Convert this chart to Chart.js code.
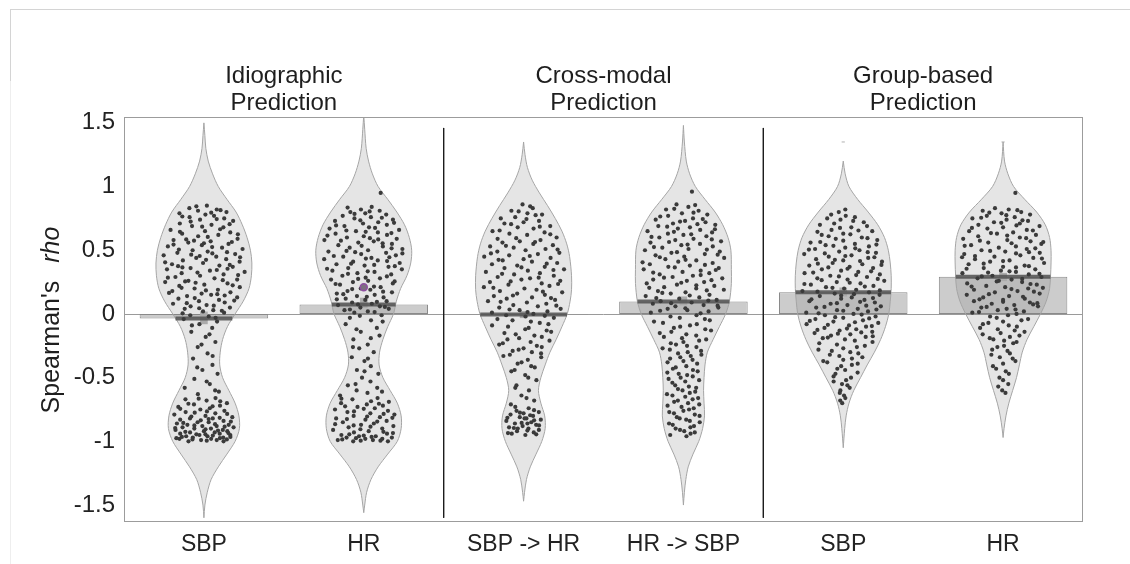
<!DOCTYPE html>
<html>
<head>
<meta charset="utf-8">
<script src="https://cdn.jsdelivr.net/npm/chart.js@4/dist/chart.umd.min.js"></script>
<style>
  html, body { margin: 0; padding: 0; background: #ffffff; }
  #wrap { width: 1130px; height: 564px; position: relative; }
</style>
</head>
<body>
<div id="wrap"><canvas id="chart" width="1130" height="564"></canvas></div>
<script>
// ---- categories, group titles, ticks ----
const categories = ['SBP', 'HR', 'SBP -> HR', 'HR -> SBP', 'SBP', 'HR'];
const groupNames = [['Idiographic', 'Prediction'], ['Cross-modal', 'Prediction'], ['Group-based', 'Prediction']];
const yTicks = [-1.5, -1, -0.5, 0, 0.5, 1, 1.5];

// ---- summary values per category ----
const meanRho = [-0.036, 0.075, -0.005, 0.098, 0.171, 0.293];
const ciLow   = [-0.078, 0.05, -0.03, 0.07, 0.14, 0.26];
const ciHigh  = [0.016, 0.125, 0.02, 0.135, 0.205, 0.32];
const medianMark = [null, 0.21, null, null, null, null];
const tailRho = [null, null, null, null, 1.35, 1.35];

// ---- kernel density profiles: [rho, relative density] from top to bottom ----
const densIdioSBP = [[1.5,0],[1.4,0.02],[1.3,0.04],[1.2,0.09],[1.1,0.18],[1.0,0.3],[0.9,0.48],[0.8,0.67],[0.7,0.8],[0.6,0.9],[0.5,0.97],[0.4,1.0],[0.3,0.99],[0.2,0.94],[0.1,0.82],[0.0,0.65],[-0.1,0.49],[-0.2,0.39],[-0.3,0.34],[-0.4,0.33],[-0.5,0.39],[-0.6,0.52],[-0.7,0.65],[-0.8,0.73],[-0.9,0.74],[-1.0,0.65],[-1.1,0.48],[-1.2,0.3],[-1.3,0.15],[-1.4,0.07],[-1.5,0.02],[-1.6,0]];
const densIdioHR  = [[1.56,0],[1.45,0.02],[1.3,0.05],[1.2,0.1],[1.1,0.18],[1.0,0.3],[0.9,0.5],[0.8,0.69],[0.7,0.85],[0.6,0.95],[0.5,1.0],[0.4,0.98],[0.3,0.9],[0.2,0.77],[0.1,0.68],[0.0,0.62],[-0.1,0.5],[-0.2,0.4],[-0.3,0.33],[-0.4,0.32],[-0.5,0.4],[-0.6,0.55],[-0.7,0.7],[-0.8,0.78],[-0.9,0.78],[-1.0,0.7],[-1.1,0.5],[-1.2,0.3],[-1.3,0.15],[-1.4,0.06],[-1.5,0.02],[-1.56,0]];
const densCrossSBPHR = [[1.35,0],[1.25,0.03],[1.15,0.08],[1.05,0.18],[0.95,0.33],[0.85,0.5],[0.75,0.66],[0.65,0.8],[0.55,0.9],[0.45,0.96],[0.3,1.0],[0.19,1.0],[0.1,0.97],[0.0,0.91],[-0.1,0.8],[-0.2,0.68],[-0.3,0.55],[-0.4,0.45],[-0.5,0.36],[-0.6,0.31],[-0.7,0.36],[-0.8,0.44],[-0.9,0.45],[-1.0,0.38],[-1.1,0.26],[-1.2,0.14],[-1.3,0.06],[-1.4,0.02],[-1.47,0]];
const densCrossHRSBP = [[1.48,0],[1.35,0.02],[1.2,0.06],[1.1,0.13],[1.0,0.25],[0.9,0.45],[0.8,0.66],[0.7,0.82],[0.6,0.93],[0.5,0.99],[0.35,1.0],[0.24,1.0],[0.1,0.96],[0.0,0.88],[-0.1,0.75],[-0.2,0.62],[-0.3,0.5],[-0.4,0.45],[-0.5,0.43],[-0.6,0.42],[-0.7,0.43],[-0.8,0.44],[-0.9,0.4],[-1.0,0.32],[-1.1,0.2],[-1.2,0.1],[-1.3,0.05],[-1.4,0.02],[-1.5,0]];
const densGroupSBP = [[1.2,0],[1.1,0.04],[1.0,0.12],[0.9,0.3],[0.8,0.52],[0.7,0.72],[0.6,0.86],[0.5,0.94],[0.4,0.98],[0.3,1.0],[0.2,1.0],[0.1,0.98],[0.0,0.95],[-0.1,0.88],[-0.2,0.78],[-0.3,0.65],[-0.4,0.5],[-0.5,0.36],[-0.6,0.22],[-0.7,0.12],[-0.8,0.06],[-0.9,0.03],[-1.05,0]];
const densGroupHR = [[1.35,0],[1.2,0.03],[1.1,0.1],[1.0,0.22],[0.9,0.45],[0.8,0.7],[0.7,0.88],[0.6,0.97],[0.5,1.0],[0.4,1.0],[0.3,0.99],[0.2,0.97],[0.1,0.9],[0.0,0.78],[-0.1,0.64],[-0.2,0.5],[-0.3,0.4],[-0.4,0.34],[-0.5,0.28],[-0.6,0.2],[-0.7,0.12],[-0.8,0.06],[-0.9,0.02],[-0.97,0]];

// ---- individual participants: [rho, jitter within the local violin width] ----
const idioSBP = [[0.85,0.12],[0.83,-0.55],[0.82,0.47],[0.81,-0.21],[0.80,0.78],[0.79,-0.83],[0.78,0.05],[0.77,0.33],[0.76,-0.46],[0.75,0.64],[0.74,-0.12],[0.73,0.89],[0.71,-0.71],[0.70,0.22],[0.69,-0.34],[0.68,0.55],[0.66,-0.92],[0.65,0.03],[0.64,0.71],[0.63,-0.58],[0.62,0.38],[0.61,-0.15],[0.59,0.86],[0.58,-0.77],[0.57,0.17],[0.56,-0.39],[0.55,0.61],[0.54,-0.05],[0.53,-0.88],[0.52,0.44],[0.51,0.93],[0.50,-0.27],[0.49,0.09],[0.48,-0.63],[0.47,0.74],[0.46,-0.95],[0.45,0.29],[0.44,-0.18],[0.43,0.52],[0.42,-0.49],[0.41,0.83],[0.40,-0.02],[0.39,-0.74],[0.38,0.36],[0.37,0.67],[0.36,-0.31],[0.35,-0.86],[0.34,0.14],[0.33,0.95],[0.32,-0.52],[0.31,0.46],[0.30,-0.09],[0.29,-0.67],[0.28,0.25],[0.27,0.79],[0.26,-0.37],[0.25,-0.93],[0.24,0.57],[0.23,0.01],[0.22,-0.6],[0.21,0.88],[0.20,-0.23],[0.19,0.35],[0.18,-0.8],[0.17,0.68],[0.16,-0.06],[0.15,0.19],[0.14,-0.45],[0.13,0.9],[0.12,-0.7],[0.11,0.42],[0.10,-0.14],[0.09,0.6],[0.08,-0.91],[0.07,0.08],[0.06,-0.41],[0.05,0.82],[0.04,-0.62],[0.03,0.31],[0.02,-0.03],[0.01,0.7],[-0.01,-0.5],[-0.02,0.18],[-0.04,-0.8],[-0.06,0.55],[-0.08,-0.2],[-0.11,0.4],[-0.14,-0.65],[-0.18,0.1],[-0.22,0.7],[-0.26,-0.4],[-0.31,0.25],[-0.35,-0.75],[-0.40,0.6],[-0.44,-0.1],[-0.47,0.85],[-0.51,-0.55],[-0.55,0.3],[-0.58,-0.9],[-0.61,0.65],[-0.63,-0.25],[-0.66,0.45],[-0.67,-0.7],[-0.68,0.1],[-0.70,0.82],[-0.71,-0.35],[-0.72,0.56],[-0.73,-0.88],[-0.74,0.2],[-0.75,-0.12],[-0.76,0.68],[-0.77,-0.6],[-0.78,0.37],[-0.79,-0.95],[-0.80,0.05],[-0.81,0.9],[-0.82,-0.44],[-0.82,0.28],[-0.83,-0.75],[-0.84,0.62],[-0.85,-0.2],[-0.85,0.15],[-0.86,-0.85],[-0.87,0.78],[-0.87,-0.52],[-0.88,0.4],[-0.88,-0.05],[-0.89,0.93],[-0.89,-0.67],[-0.90,0.22],[-0.90,-0.3],[-0.91,0.6],[-0.91,-0.9],[-0.92,0.0],[-0.92,0.75],[-0.93,-0.45],[-0.93,0.35],[-0.94,-0.78],[-0.94,0.52],[-0.95,-0.15],[-0.95,0.88],[-0.96,-0.6],[-0.96,0.12],[-0.97,0.66],[-0.97,-0.38],[-0.98,0.25],[-0.98,-0.85],[-0.99,0.45],[-0.99,-0.1],[-1.00,0.7],[-1.00,-0.55],
  [0.845,-0.3],[0.815,0.6],[0.795,0.25],[0.765,-0.7],[0.745,0.4],[0.725,-0.4],[0.705,0.75],[0.685,-0.05],[0.665,0.45],[0.645,-0.65],[0.625,0.9],[0.605,0.1],[0.585,-0.45],[0.565,0.7],[0.545,-0.75],[0.525,0.2],[0.505,-0.6],[0.485,0.55],[0.465,-0.3],[0.445,0.85],[0.425,0.05],[0.405,-0.9],[0.385,0.6],[0.365,-0.5],[0.345,0.3],[0.325,-0.15],[0.305,0.8],[0.285,-0.85],[0.265,0.45],[0.245,-0.2],[0.225,0.7],[0.205,-0.55],[0.185,0.05],[0.165,-0.9],[0.145,0.55],[0.125,-0.25],[0.105,0.85],[0.085,-0.5],[0.065,0.3],[0.045,-0.15],[0.025,0.6],[0.005,-0.75],[0.555,0.0],[0.455,-0.1],[0.355,0.55],[0.255,-0.45],[0.155,0.35],[0.475,0.2],[0.375,-0.6],[0.575,-0.25],
  [-0.03,0.45],[-0.09,-0.55],[-0.16,0.3],[-0.24,-0.15],[-0.33,0.6],[-0.42,-0.45],[-0.53,0.15],[-0.60,0.5],
  [-0.665,-0.2],[-0.685,0.6],[-0.705,-0.55],[-0.725,0.3],[-0.745,-0.8],[-0.765,0.1],[-0.785,0.75],[-0.805,-0.4],[-0.815,0.5],[-0.835,-0.1],[-0.845,0.85],[-0.855,-0.65],[-0.865,0.35],[-0.875,-0.3],[-0.885,0.65],[-0.895,-0.9],[-0.905,0.05],[-0.915,0.45],[-0.925,-0.6],[-0.935,0.8],[-0.945,-0.25],[-0.955,0.3],[-0.965,-0.75],[-0.975,0.55],[-0.985,-0.4],[-0.995,0.1],[-0.775,-0.3],[-0.825,0.15],[-0.945,0.05],[-0.965,0.9],[-0.985,0.8],[-0.975,-0.95]];

const idioHR = [[0.95,0.98],[0.84,0.3],[0.82,-0.1],[0.81,0.55],[0.80,-0.45],[0.79,0.05],[0.78,0.72],[0.77,-0.66],[0.76,0.22],[0.75,-0.28],[0.74,0.86],[0.73,-0.83],[0.72,0.41],[0.71,-0.02],[0.70,0.63],[0.69,-0.52],[0.68,0.14],[0.67,-0.9],[0.66,0.92],[0.65,-0.2],[0.64,0.36],[0.63,-0.71],[0.62,0.58],[0.61,0.0],[0.60,-0.41],[0.59,0.8],[0.58,-0.95],[0.57,0.24],[0.56,-0.13],[0.55,0.67],[0.54,-0.6],[0.53,0.45],[0.52,-0.33],[0.51,0.9],[0.50,0.1],[0.49,-0.82],[0.48,0.52],[0.47,-0.06],[0.46,0.75],[0.45,-0.48],[0.44,0.18],[0.43,-0.93],[0.42,0.33],[0.41,-0.25],[0.40,0.85],[0.39,-0.65],[0.38,0.02],[0.37,0.6],[0.36,-0.38],[0.35,0.94],[0.34,-0.78],[0.33,0.27],[0.32,-0.16],[0.31,0.7],[0.30,-0.55],[0.28,0.43],[0.27,-0.88],[0.26,0.12],[0.25,-0.3],[0.24,0.82],[0.23,-0.68],[0.21,0.5],[0.20,-0.09],[0.19,0.2],[0.18,-0.5],[0.17,0.88],[0.16,-0.85],[0.15,0.35],[0.14,-0.22],[0.13,0.65],[0.12,-0.6],[0.11,0.05],[0.10,0.78],[0.09,-0.4],[0.08,0.28],[0.07,-0.9],[0.06,0.57],[0.05,-0.12],[0.04,0.9],[0.03,-0.7],[0.02,0.15],[0.01,-0.35],[-0.01,0.68],[-0.03,-0.55],[-0.05,0.3],[-0.08,-0.8],[-0.11,0.62],[-0.14,-0.15],[-0.17,0.85],[-0.20,-0.6],[-0.24,0.25],[-0.27,-0.3],[-0.30,0.7],[-0.34,-0.85],[-0.37,0.05],[-0.41,0.5],[-0.44,-0.45],[-0.47,0.9],[-0.50,-0.1],[-0.53,0.35],[-0.56,-0.75],[-0.58,0.6],[-0.60,-0.3],[-0.62,0.15],[-0.64,-0.9],[-0.66,0.5],[-0.67,-0.4],[-0.69,0.85],[-0.70,-0.75],[-0.71,0.1],[-0.72,0.62],[-0.73,-0.2],[-0.74,0.35],[-0.75,-0.9],[-0.76,0.75],[-0.77,-0.5],[-0.78,0.2],[-0.79,0.92],[-0.80,-0.3],[-0.81,0.48],[-0.82,-0.82],[-0.83,0.05],[-0.84,0.68],[-0.85,-0.62],[-0.86,0.3],[-0.87,-0.08],[-0.88,0.88],[-0.89,-0.45],[-0.90,0.55],[-0.91,-0.92],[-0.92,0.15],[-0.93,-0.3],[-0.94,0.72],[-0.95,-0.7],[-0.96,0.38],[-0.96,-0.15],[-0.97,0.9],[-0.97,-0.55],[-0.98,0.05],[-0.98,0.6],[-0.99,-0.85],[-0.99,0.3],[-1.00,-0.35],[-1.00,0.8],
  [0.835,-0.6],[0.805,0.2],[0.785,-0.3],[0.755,0.55],[0.735,-0.1],[0.715,0.85],[0.695,-0.75],[0.675,0.3],[0.655,-0.45],[0.635,0.7],[0.615,-0.9],[0.595,0.15],[0.575,-0.55],[0.555,0.45],[0.535,-0.05],[0.515,0.65],[0.495,-0.4],[0.475,0.9],[0.455,-0.7],[0.435,0.05],[0.415,0.55],[0.395,-0.3],[0.375,0.75],[0.355,-0.9],[0.335,0.1],[0.315,-0.4],[0.295,0.6],[0.275,-0.15],[0.255,0.85],[0.235,-0.8],[0.215,0.3],[0.195,-0.35],[0.175,0.6],[0.155,-0.65],[0.135,0.1],[0.115,-0.9],[0.095,0.45],[0.075,-0.2],[0.055,0.75],[0.035,-0.5],[0.015,0.4],[-0.015,-0.15],[0.585,0.35],[0.485,-0.2],[0.385,0.25],[0.285,0.05],[0.445,0.6],[0.645,0.05],
  [-0.06,0.8],[-0.12,-0.35],[-0.19,0.4],[-0.26,-0.7],[-0.35,0.3],[-0.45,0.05],[-0.55,-0.4],[-0.61,0.75],
  [-0.665,-0.8],[-0.685,0.25],[-0.705,0.5],[-0.725,-0.6],[-0.745,0.0],[-0.765,-0.3],[-0.785,0.6],[-0.805,0.1],[-0.825,-0.5],[-0.845,0.4],[-0.865,-0.85],[-0.885,0.2],[-0.905,-0.1],[-0.925,0.6],[-0.945,-0.45],[-0.965,0.25],[-0.985,-0.7],[-0.995,0.55],[-0.815,0.85],[-0.875,-0.3],[-0.935,0.9],[-0.955,0.0],[-0.975,-0.25],[-0.995,-0.1]];

const crossSBPHR = [[0.86,-0.05],[0.83,0.4],[0.81,-0.5],[0.79,0.15],[0.78,0.7],[0.76,-0.3],[0.75,-0.8],[0.73,0.52],[0.72,0.0],[0.71,-0.62],[0.69,0.83],[0.68,-0.18],[0.67,0.3],[0.65,-0.9],[0.64,0.6],[0.63,-0.4],[0.62,0.1],[0.60,0.9],[0.59,-0.7],[0.58,0.45],[0.57,-0.1],[0.56,-0.55],[0.55,0.25],[0.54,0.75],[0.53,-0.85],[0.52,-0.25],[0.51,0.55],[0.50,0.05],[0.49,-0.65],[0.48,0.88],[0.47,0.35],[0.46,-0.35],[0.45,-0.95],[0.44,0.65],[0.43,0.0],[0.42,-0.5],[0.41,0.2],[0.40,0.8],[0.39,-0.75],[0.38,-0.15],[0.37,0.5],[0.36,-0.45],[0.35,0.95],[0.34,0.1],[0.33,-0.88],[0.32,0.38],[0.31,-0.22],[0.30,0.7],[0.29,-0.6],[0.28,0.15],[0.27,-0.05],[0.26,0.85],[0.25,-0.78],[0.24,0.42],[0.23,-0.35],[0.22,0.6],[0.21,-0.92],[0.20,0.02],[0.19,0.3],[0.18,-0.55],[0.17,0.9],[0.16,-0.15],[0.15,0.5],[0.14,-0.7],[0.13,0.2],[0.12,-0.4],[0.11,0.75],[0.10,-0.85],[0.09,0.08],[0.08,0.55],[0.07,-0.25],[0.06,0.35],[0.05,-0.6],[0.04,0.92],[0.03,-0.1],[0.02,0.6],[0.01,-0.8],[0.00,0.25],[-0.01,-0.45],[-0.02,0.05],[-0.03,0.8],[-0.05,-0.3],[-0.07,0.45],[-0.09,-0.9],[-0.11,0.15],[-0.13,0.7],[-0.15,-0.6],[-0.17,0.35],[-0.19,-0.15],[-0.21,0.9],[-0.23,-0.75],[-0.25,0.5],[-0.27,0.0],[-0.29,-0.45],[-0.31,0.75],[-0.33,-0.9],[-0.36,0.2],[-0.39,-0.3],[-0.42,0.6],[-0.45,-0.7],[-0.48,0.1],[-0.52,0.85],[-0.56,-0.5],[-0.60,0.4],[-0.64,-0.15],[-0.68,0.7],[-0.71,-0.8],[-0.74,0.3],[-0.76,-0.4],[-0.77,0.85],[-0.78,0.0],[-0.79,-0.7],[-0.80,0.5],[-0.81,-0.2],[-0.82,0.15],[-0.83,0.9],[-0.84,-0.9],[-0.85,0.4],[-0.86,-0.45],[-0.87,0.65],[-0.88,-0.05],[-0.89,-0.75],[-0.90,0.25],[-0.91,0.8],[-0.92,-0.35],[-0.93,0.55],[-0.94,-0.65],[-0.95,0.1],
  [0.845,0.3],[0.805,-0.2],[0.775,0.45],[0.745,0.1],[0.705,-0.4],[0.685,0.5],[0.655,-0.7],[0.625,0.75],[0.595,-0.2],[0.565,0.3],[0.535,-0.45],[0.505,0.85],[0.475,-0.8],[0.455,0.15],[0.425,-0.6],[0.395,0.55],[0.365,-0.05],[0.345,0.7],[0.315,-0.5],[0.285,0.35],[0.255,-0.3],[0.235,0.8],[0.205,-0.7],[0.175,0.45],[0.145,-0.25],[0.125,0.65],[0.095,-0.55],[0.065,0.8],[0.035,-0.35],[0.015,0.1],[-0.015,0.55],[-0.04,-0.7],[-0.06,0.2],[-0.08,0.7],[-0.10,-0.45],[-0.12,0.05],[-0.14,0.85],[-0.16,-0.25],[-0.18,0.6],[-0.20,-0.55],[-0.22,0.25],[-0.24,-0.9],[-0.26,0.7],[-0.28,-0.2],[-0.30,0.35],[-0.32,-0.6],[-0.34,0.8],[-0.38,-0.1],[-0.41,0.4],[-0.44,-0.5],
  [-0.50,0.3],[-0.58,-0.6],[-0.66,0.2],[-0.73,-0.5],[-0.755,0.6],[-0.775,-0.2],[-0.795,0.35],[-0.815,-0.85],[-0.835,0.55],[-0.855,-0.1],[-0.875,0.8],[-0.895,-0.5],[-0.915,0.2],[-0.935,-0.85],[-0.945,0.7],[-0.82,0.05],[-0.86,0.2],[-0.90,-0.3]];

const crossHRSBP = [[0.96,0.6],[0.86,-0.3],[0.84,0.2],[0.82,-0.65],[0.81,0.55],[0.79,-0.05],[0.78,0.8],[0.77,-0.5],[0.75,0.3],[0.74,-0.85],[0.73,0.05],[0.72,0.65],[0.71,-0.3],[0.70,0.9],[0.69,-0.7],[0.68,0.18],[0.67,-0.15],[0.66,0.45],[0.65,-0.95],[0.64,0.75],[0.63,-0.4],[0.62,0.0],[0.61,0.58],[0.60,-0.6],[0.59,0.25],[0.58,-0.2],[0.57,0.92],[0.56,-0.8],[0.55,0.4],[0.54,-0.05],[0.53,0.7],[0.52,-0.5],[0.51,0.12],[0.50,-0.9],[0.49,0.85],[0.48,-0.28],[0.47,0.5],[0.46,-0.65],[0.45,0.02],[0.44,0.95],[0.43,-0.42],[0.42,0.3],[0.41,-0.12],[0.40,0.68],[0.39,-0.78],[0.38,0.15],[0.37,-0.35],[0.36,0.82],[0.35,-0.92],[0.34,0.4],[0.33,-0.02],[0.32,0.6],[0.31,-0.55],[0.30,0.22],[0.29,-0.25],[0.28,0.9],[0.27,-0.7],[0.26,0.08],[0.25,0.48],[0.24,-0.85],[0.23,-0.15],[0.22,0.72],[0.21,-0.45],[0.20,0.3],[0.19,0.95],[0.18,-0.6],[0.17,0.05],[0.16,-0.3],[0.15,0.62],[0.14,-0.9],[0.13,0.38],[0.12,-0.1],[0.11,0.8],[0.10,-0.55],[0.09,0.2],[0.08,-0.75],[0.07,0.5],[0.06,-0.2],[0.05,0.88],[0.04,-0.4],[0.03,0.1],[0.02,0.65],[0.01,-0.85],[-0.01,0.35],[-0.03,-0.1],[-0.05,0.75],[-0.07,-0.6],[-0.09,0.2],[-0.11,-0.3],[-0.13,0.9],[-0.15,-0.8],[-0.17,0.45],[-0.19,-0.05],[-0.21,0.6],[-0.23,-0.5],[-0.25,0.15],[-0.27,-0.9],[-0.29,0.8],[-0.31,-0.25],[-0.33,0.35],[-0.35,-0.65],[-0.37,0.0],[-0.39,0.7],[-0.42,-0.4],[-0.44,0.5],[-0.46,-0.85],[-0.48,0.2],[-0.50,-0.15],[-0.52,0.85],[-0.54,-0.6],[-0.57,0.3],[-0.59,-0.3],[-0.61,0.65],[-0.63,-0.9],[-0.65,0.1],[-0.67,0.5],[-0.69,-0.5],[-0.71,0.85],[-0.73,-0.1],[-0.75,0.3],[-0.77,-0.75],[-0.79,0.6],[-0.81,-0.35],[-0.83,0.15],[-0.85,0.9],[-0.87,-0.6],[-0.89,0.4],[-0.91,-0.2],[-0.93,0.7],[-0.95,-0.85],[-0.96,0.2],
  [0.855,0.5],[0.825,-0.35],[0.795,0.35],[0.765,-0.75],[0.745,0.6],[0.725,-0.1],[0.705,0.4],[0.685,-0.45],[0.665,0.85],[0.645,-0.25],[0.625,0.2],[0.605,-0.8],[0.585,0.7],[0.565,-0.35],[0.545,0.1],[0.525,-0.7],[0.505,0.55],[0.485,-0.15],[0.465,0.8],[0.445,-0.55],[0.425,0.05],[0.405,-0.95],[0.385,0.5],[0.365,-0.2],[0.345,0.75],[0.325,-0.7],[0.305,0.4],[0.285,-0.45],[0.265,0.65],[0.245,-0.05],[0.225,0.3],[0.205,-0.8],[0.185,0.55],[0.165,-0.5],[0.145,0.15],[0.125,-0.65],[0.105,0.6],[0.085,-0.3],[0.065,0.85],[0.045,0.05],[0.025,-0.6],[0.005,0.45],
  [-0.02,-0.35],[-0.04,0.6],[-0.06,-0.85],[-0.08,0.4],[-0.10,-0.1],[-0.12,0.7],[-0.14,-0.4],[-0.16,0.1],[-0.18,-0.7],[-0.20,0.85],[-0.22,0.0],[-0.24,-0.3],[-0.26,0.55],[-0.28,-0.6],[-0.30,0.2],[-0.32,0.85],[-0.34,-0.15],[-0.36,0.45],[-0.38,-0.8],[-0.41,0.15],[-0.43,-0.55],[-0.45,0.75],[-0.47,-0.25],[-0.49,0.5],[-0.51,-0.8],[-0.53,0.1],[-0.56,-0.45],[-0.58,0.7],[-0.60,-0.05],[-0.62,0.35],[-0.64,-0.6],[-0.66,0.8],[-0.68,-0.3],[-0.70,0.25],[-0.72,-0.85],[-0.74,0.55],[-0.76,0.0],[-0.78,-0.5],[-0.80,0.85],[-0.82,-0.2],[-0.84,0.35],[-0.86,-0.8],[-0.88,0.6],[-0.90,-0.45],[-0.92,0.05],[-0.94,0.45]];

const groupSBP = [[0.82,0.1],[0.78,-0.5],[0.76,0.45],[0.74,-0.1],[0.72,0.7],[0.70,-0.75],[0.68,0.25],[0.66,-0.35],[0.65,0.85],[0.63,0.0],[0.62,-0.6],[0.60,0.5],[0.59,-0.2],[0.58,0.9],[0.56,-0.85],[0.55,0.3],[0.54,-0.45],[0.53,0.65],[0.52,0.05],[0.51,-0.7],[0.50,0.4],[0.49,-0.1],[0.48,0.8],[0.47,-0.95],[0.46,0.2],[0.45,-0.35],[0.44,0.6],[0.43,-0.65],[0.42,0.0],[0.41,0.92],[0.40,-0.25],[0.39,0.45],[0.38,-0.8],[0.37,0.15],[0.36,0.7],[0.35,-0.5],[0.34,-0.05],[0.33,0.35],[0.32,-0.9],[0.31,0.85],[0.30,-0.3],[0.29,0.55],[0.28,-0.6],[0.27,0.1],[0.26,0.95],[0.25,-0.15],[0.24,0.4],[0.23,-0.75],[0.22,0.7],[0.21,-0.4],[0.20,0.02],[0.19,0.3],[0.18,-0.95],[0.17,0.6],[0.16,-0.2],[0.15,0.85],[0.14,-0.55],[0.13,0.2],[0.12,-0.05],[0.11,0.5],[0.10,-0.8],[0.09,0.75],[0.08,-0.3],[0.07,0.1],[0.06,0.9],[0.05,-0.65],[0.04,0.35],[0.03,-0.15],[0.02,0.6],[0.01,-0.9],[0.00,0.25],[-0.01,-0.45],[-0.02,0.8],[-0.03,0.0],[-0.04,-0.7],[-0.05,0.5],[-0.06,-0.25],[-0.07,0.9],[-0.08,-0.95],[-0.09,0.15],[-0.10,0.6],[-0.11,-0.5],[-0.12,0.35],[-0.13,-0.1],[-0.14,0.8],[-0.15,-0.8],[-0.16,0.2],[-0.17,-0.35],[-0.18,0.65],[-0.19,-0.6],[-0.20,0.05],[-0.22,0.9],[-0.24,-0.2],[-0.26,0.45],[-0.28,-0.85],[-0.30,0.25],[-0.32,-0.5],[-0.34,0.75],[-0.36,0.0],[-0.38,-0.7],[-0.40,0.4],[-0.43,-0.3],[-0.46,0.8],[-0.49,-0.6],[-0.52,0.2],[-0.55,-0.1],[-0.58,0.6],[-0.62,-0.4],[-0.66,0.3],[-0.70,-0.2],
  [0.80,-0.2],[0.77,0.1],[0.75,-0.6],[0.73,0.35],[0.71,-0.3],[0.69,0.75],[0.675,-0.1],[0.655,0.45],[0.645,-0.75],[0.625,0.2],[0.61,-0.4],[0.595,0.65],[0.575,0.0],[0.565,-0.6],[0.545,0.85],[0.535,-0.25],[0.515,0.3],[0.505,-0.85],[0.485,0.6],[0.475,-0.45],[0.455,0.05],[0.445,0.75],[0.425,-0.2],[0.415,0.4],[0.395,-0.6],[0.385,0.9],[0.365,-0.35],[0.355,0.1],[0.335,0.65],[0.325,-0.7],[0.305,0.3],[0.295,-0.1],[0.275,0.8],[0.265,-0.5],[0.245,0.15],[0.235,-0.9],[0.215,0.5],[0.205,-0.25],[0.185,0.85],[0.175,-0.6],[0.155,0.25],[0.145,-0.05],[0.125,0.7],[0.115,-0.75],[0.095,0.4],[0.085,-0.15],[0.065,0.55],[0.055,-0.45],[0.035,0.8],[0.025,0.0],[0.005,-0.6],[-0.005,0.45],[-0.025,-0.2],[-0.035,0.65],[-0.055,-0.85],[-0.065,0.3],[-0.085,-0.4],[-0.095,0.75],[-0.115,0.1],[-0.125,-0.7],[-0.145,0.5],[-0.155,-0.15],[-0.175,0.85],[-0.185,-0.45],[-0.21,0.35],[-0.23,-0.75],[-0.25,0.7],[-0.27,0.0],[-0.29,-0.4],[-0.31,0.55],[-0.33,-0.15],[-0.35,0.35],[-0.37,-0.85],[-0.39,0.65],[-0.41,-0.1],[-0.44,0.1],[-0.47,-0.45],[-0.50,0.5],[-0.53,-0.7],[-0.56,0.35],[-0.60,-0.3],[-0.64,0.1],[-0.68,-0.5]];

const groupHR = [[0.95,0.85],[0.83,-0.3],[0.82,0.2],[0.81,-0.7],[0.80,0.6],[0.79,-0.05],[0.78,0.85],[0.77,-0.5],[0.76,0.35],[0.75,-0.9],[0.74,0.1],[0.73,0.7],[0.72,-0.25],[0.71,0.45],[0.70,-0.65],[0.69,0.95],[0.68,0.0],[0.67,-0.4],[0.66,0.6],[0.65,-0.85],[0.64,0.25],[0.63,-0.15],[0.62,0.8],[0.61,-0.6],[0.60,0.4],[0.59,-0.95],[0.58,0.1],[0.57,0.65],[0.56,-0.35],[0.55,0.9],[0.54,-0.75],[0.53,0.3],[0.52,-0.1],[0.51,0.55],[0.50,-0.5],[0.49,0.05],[0.48,0.85],[0.47,-0.9],[0.46,0.4],[0.45,-0.2],[0.44,0.7],[0.43,-0.65],[0.42,0.15],[0.41,-0.3],[0.40,0.95],[0.39,-0.8],[0.38,0.5],[0.37,0.0],[0.36,-0.45],[0.35,0.75],[0.34,-0.05],[0.33,0.3],[0.32,-0.95],[0.31,0.6],[0.30,-0.25],[0.29,0.9],[0.28,-0.6],[0.27,0.2],[0.26,-0.1],[0.25,0.45],[0.24,-0.85],[0.23,0.8],[0.22,-0.4],[0.21,0.05],[0.20,0.6],[0.19,-0.7],[0.18,0.35],[0.17,-0.2],[0.16,0.9],[0.15,-0.9],[0.14,0.15],[0.13,-0.5],[0.12,0.55],[0.11,0.0],[0.10,-0.75],[0.09,0.7],[0.08,-0.3],[0.07,0.3],[0.06,0.95],[0.05,-0.6],[0.04,0.1],[0.03,-0.15],[0.02,0.6],[0.01,-0.9],[0.00,0.4],[-0.02,-0.4],[-0.04,0.8],[-0.06,0.0],[-0.08,-0.7],[-0.10,0.5],[-0.12,-0.2],[-0.14,0.85],[-0.16,-0.85],[-0.18,0.3],[-0.20,-0.45],[-0.22,0.65],[-0.25,0.05],[-0.28,-0.6],[-0.31,0.4],[-0.34,-0.2],[-0.37,0.8],[-0.41,-0.7],[-0.45,0.2],[-0.50,-0.3],[-0.55,0.5],[-0.60,-0.1],
  [0.815,0.5],[0.795,-0.45],[0.775,0.1],[0.755,-0.65],[0.735,0.55],[0.715,-0.05],[0.695,0.35],[0.675,-0.8],[0.655,0.75],[0.635,-0.3],[0.615,0.1],[0.595,0.55],[0.575,-0.55],[0.555,0.2],[0.535,-0.9],[0.515,0.75],[0.495,-0.3],[0.475,0.3],[0.455,-0.65],[0.435,0.9],[0.415,0.0],[0.395,-0.45],[0.375,0.6],[0.355,-0.85],[0.335,0.15],[0.315,0.85],[0.295,-0.5],[0.275,0.45],[0.255,-0.15],[0.235,0.65],[0.215,-0.75],[0.195,0.2],[0.175,0.75],[0.155,-0.35],[0.135,0.5],[0.115,-0.6],[0.095,0.0],[0.075,0.8],[0.055,-0.45],[0.035,0.35],[0.015,-0.7],[-0.01,0.15],[-0.03,-0.2],[-0.05,0.6],[-0.07,-0.5],[-0.09,0.2],[-0.11,-0.85],[-0.13,0.45],[-0.15,-0.1],[-0.17,0.7],[-0.19,-0.6],[-0.21,0.05],[-0.23,0.5],[-0.26,-0.3],[-0.29,0.25],[-0.32,-0.7],[-0.35,0.6],[-0.39,0.0],[-0.43,-0.5],[-0.47,0.45],[-0.52,0.0],[-0.57,-0.5],[-0.62,0.3],[0.565,0.95],[0.445,-0.95],[0.325,-0.35],[0.205,0.95],[0.085,0.9],[0.365,0.3],[0.485,0.6]];

// ---- drawing ----
const FONT = "'Liberation Sans', Arial, Helvetica, sans-serif";
Chart.defaults.font.family = FONT;

const violins = [
  { pts: idioSBP, dens: densIdioSBP },
  { pts: idioHR, dens: densIdioHR },
  { pts: crossSBPHR, dens: densCrossSBPHR },
  { pts: crossHRSBP, dens: densCrossHRSBP },
  { pts: groupSBP, dens: densGroupSBP },
  { pts: groupHR, dens: densGroupHR }
];
const HALF = 0.3;       // widest violin half-width, in category units
const JITTER = 0.9;     // share of the local width used by the dots

function densityAt(prof, y) {
  for (let i = 0; i < prof.length - 1; i++) {
    const [y0, d0] = prof[i];
    const [y1, d1] = prof[i + 1];
    if (y <= y0 && y >= y1) return d0 + (d1 - d0) * (y0 - y) / (y0 - y1);
  }
  return 0;
}

const datasets = [];

// mean bars
datasets.push({
  type: 'bar',
  data: meanRho.map((v, i) => ({ x: i + 1, y: v })),
  backgroundColor: '#cccccc',
  borderColor: '#8a8a8a',
  borderWidth: 1,
  borderSkipped: false,
  grouped: false,
  categoryPercentage: 1,
  barPercentage: 0.804,
  order: 10
});

// violin outlines
violins.forEach((v, i) => {
  const c = i + 1;
  const right = v.dens.map(([y, d]) => ({ x: c + d * HALF, y }));
  const left = v.dens.slice().reverse().map(([y, d]) => ({ x: c - d * HALF, y }));
  datasets.push({
    type: 'line',
    data: right.concat(left),
    borderColor: '#a5a5a5',
    borderWidth: 1,
    backgroundColor: 'rgba(112,112,112,0.18)',
    fill: 'shape',
    pointRadius: 0,
    tension: 0.3,
    order: 9
  });
});

// thin tails above two violins
tailRho.forEach((t, i) => {
  if (t === null) return;
  datasets.push({
    type: 'line',
    data: [{ x: i + 1 - 0.01, y: t }, { x: i + 1 + 0.01, y: t }],
    borderColor: '#b0b0b0', borderWidth: 1, pointRadius: 0, order: 9
  });
});

// confidence boxes
datasets.push({
  type: 'bar',
  data: ciLow.map((lo, i) => ({ x: i + 1, y: [lo, ciHigh[i]] })),
  backgroundColor: '#ababab',
  borderWidth: 0,
  grouped: false,
  barThickness: 7,
  order: 8
});

// mean lines across each violin
meanRho.forEach((m, i) => {
  const hw = densityAt(violins[i].dens, m) * HALF;
  datasets.push({
    type: 'line',
    data: [{ x: i + 1 - hw, y: m }, { x: i + 1 + hw, y: m }],
    borderColor: 'rgba(80,80,80,0.85)', borderWidth: 4, pointRadius: 0, order: 7
  });
});

// group separators
for (let g = 1; g < groupNames.length; g++) {
  const xs = 2 * g + 0.5;
  datasets.push({
    type: 'line',
    data: [{ x: xs, y: 1.46 }, { x: xs, y: -1.6 }],
    borderColor: '#1c1c1c', borderWidth: 1, pointRadius: 0, order: 7
  });
}

// participant dots
violins.forEach((v, i) => {
  const c = i + 1;
  datasets.push({
    type: 'scatter',
    data: v.pts.map(([y, j]) => ({ x: c + j * densityAt(v.dens, y) * HALF * JITTER, y })),
    backgroundColor: '#3a3a3a',
    borderWidth: 0,
    pointRadius: 2.1,
    order: 2
  });
});

// highlighted median
datasets.push({
  type: 'scatter',
  data: medianMark.map((m, i) => (m === null ? null : { x: i + 1, y: m })).filter(p => p),
  backgroundColor: '#7c6f80',
  borderColor: '#8e4fa0',
  borderWidth: 1.5,
  pointRadius: 3.5,
  order: 1
});

const decorations = {
  id: 'decorations',
  beforeDatasetsDraw(chart) {
    const { ctx, chartArea: a, scales: { y } } = chart;
    const y0 = Math.round(y.getPixelForValue(0)) + 0.5;
    ctx.save();
    ctx.strokeStyle = '#9a9a9a';
    ctx.lineWidth = 1;
    ctx.beginPath();
    ctx.moveTo(a.left, y0);
    ctx.lineTo(a.right, y0);
    ctx.stroke();
    ctx.restore();
  },
  afterDraw(chart) {
    const { ctx, chartArea: a, scales: { x } } = chart;
    ctx.save();
    // figure border
    ctx.lineWidth = 1;
    ctx.strokeStyle = '#d4d4d4';
    ctx.beginPath();
    ctx.moveTo(10, 9.5); ctx.lineTo(1130, 9.5);
    ctx.moveTo(10.5, 9); ctx.lineTo(10.5, 81);
    ctx.stroke();
    ctx.strokeStyle = '#eeeeee';
    ctx.beginPath();
    ctx.moveTo(10.5, 81); ctx.lineTo(10.5, 564);
    ctx.stroke();

    // plot frame
    ctx.strokeStyle = '#9c9c9c';
    ctx.strokeRect(a.left + 0.5, a.top + 0.5, a.right - a.left - 1, a.bottom - a.top - 1);

    // group titles
    ctx.fillStyle = '#1e1e1e';
    ctx.font = '24px ' + FONT;
    ctx.textAlign = 'center';
    ctx.textBaseline = 'middle';
    groupNames.forEach((lines, g) => {
      const cx = x.getPixelForValue(2 * g + 1.5);
      ctx.fillText(lines[0], cx, 76);
      ctx.fillText(lines[1], cx, 103);
    });

    // y-axis title with italic symbol
    ctx.translate(52, (a.top + a.bottom) / 2 + 0.5);
    ctx.rotate(-Math.PI / 2);
    ctx.textAlign = 'left';
    ctx.font = '25px ' + FONT;
    const w1 = ctx.measureText("Spearman's").width;
    ctx.font = 'italic 25px ' + FONT;
    const w2 = ctx.measureText('rho').width;
    const gap = 18;
    const start = -(w1 + gap + w2) / 2;
    ctx.font = '25px ' + FONT;
    ctx.fillText("Spearman's", start, 0);
    ctx.font = 'italic 25px ' + FONT;
    ctx.fillText('rho', start + w1 + gap, 0);
    ctx.restore();
  }
};

new Chart(document.getElementById('chart'), {
  type: 'bar',
  data: { datasets },
  options: {
    responsive: false,
    animation: false,
    events: [],
    layout: { padding: { top: 117, right: 47, left: 0, bottom: 0 } },
    plugins: { legend: { display: false }, tooltip: { enabled: false } },
    scales: {
      x: {
        type: 'linear',
        offset: false,
        min: 0.5,
        max: 6.5,
        grid: { display: false, drawTicks: false },
        border: { display: false },
        afterBuildTicks: s => { s.ticks = categories.map((_, i) => ({ value: i + 1 })); },
        afterFit: s => { s.height = 42; },
        ticks: {
          callback: v => categories[v - 1],
          font: { size: 23 },
          color: '#222222',
          padding: 9,
          maxRotation: 0,
          autoSkip: false
        }
      },
      y: {
        type: 'linear',
        min: -1.633,
        max: 1.546,
        grid: { display: false, drawTicks: false },
        border: { display: false },
        afterBuildTicks: s => { s.ticks = yTicks.map(v => ({ value: v })); },
        afterFit: s => { s.width = 124; },
        ticks: {
          callback: v => String(v),
          font: { size: 24 },
          color: '#222222',
          padding: 9
        }
      }
    }
  },
  plugins: [decorations]
});
</script>
</body>
</html>
